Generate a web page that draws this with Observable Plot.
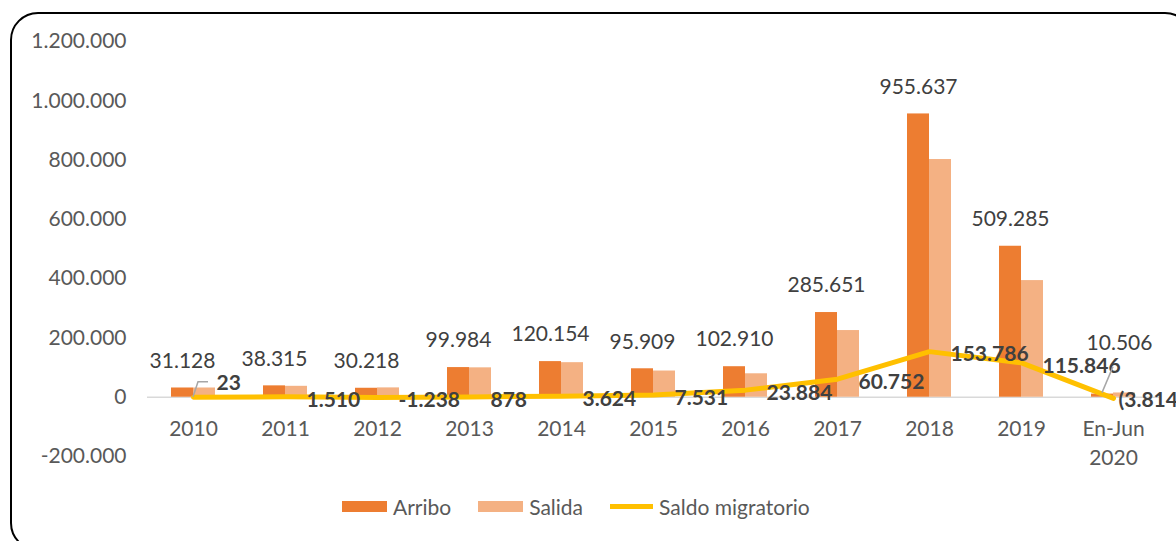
<!DOCTYPE html>
<html>
<head>
<meta charset="utf-8">
<script src="https://cdn.jsdelivr.net/npm/d3@7"></script>
<script src="https://cdn.jsdelivr.net/npm/@observablehq/plot@0.6"></script>
<style>
  html, body { margin: 0; padding: 0; background: #fff; overflow: hidden; width: 1176px; height: 541px; }
  #frame { position: absolute; left: 10px; top: 12px; width: 1183px; height: 539px; border: 2px solid #000; border-radius: 28px; box-sizing: border-box; pointer-events: none; }
  #chart { position: absolute; left: 0; top: 0; }
  #legend { position: absolute; left: 342px; top: 494px; display: flex; align-items: center; gap: 27px; font-family: Lato, sans-serif; font-size: 21px; color: #595959; }
  .item { display: flex; align-items: center; gap: 6px; }
  .sw { width: 45px; height: 11px; }
  .ln { width: 43px; height: 5px; }
</style>
</head>
<body>
<div id="chart"></div>
<div id="legend">
  <div class="item"><div class="sw" style="background:#ED7D31"></div><span>Arribo</span></div>
  <div class="item"><div class="sw" style="background:#F4B183"></div><span>Salida</span></div>
  <div class="item"><div class="ln" style="background:#FFC000"></div><span>Saldo migratorio</span></div>
</div>
<div id="frame"></div>
<script>
const categories = ["2010","2011","2012","2013","2014","2015","2016","2017","2018","2019","En-Jun\n2020"];
const arribo = [31128, 38315, 30218, 99984, 120154, 95909, 102910, 285651, 955637, 509285, 10506];
const salida = [31105, 36805, 31456, 99106, 116530, 88378, 79026, 224899, 801851, 393439, 14320];
const saldo  = [23, 1510, -1238, 878, 3624, 7531, 23884, 60752, 153786, 115846, -3814];
const yTicks = [-200000, 0, 200000, 400000, 600000, 800000, 1000000, 1200000];

const data = categories.map((c, i) => ({cat: c, arribo: arribo[i], salida: salida[i], saldo: saldo[i]}));
const first = categories[0], last = categories[categories.length - 1];

const loc = d3.formatLocale({decimal: ",", thousands: ".", grouping: [3], currency: ["", ""], minus: "-"});
const fmt = loc.format(",d");

const chart = Plot.plot({
  width: 1176,
  height: 480,
  marginLeft: 147,
  marginRight: 17,
  marginTop: 41,
  marginBottom: 24,
  style: {fontFamily: "Lato, sans-serif", fontSize: "21px", color: "#595959", background: "transparent", overflow: "visible"},
  x: {type: "band", domain: categories, paddingInner: 0.52, paddingOuter: 0.26, axis: null},
  y: {domain: [-200000, 1200000], ticks: yTicks, tickFormat: fmt, tickSize: 0, tickPadding: 21, label: null, grid: false},
  marks: [
    Plot.ruleY([0], {stroke: "#D9D9D9", strokeWidth: 1.5}),
    Plot.barY(data, {x: "cat", y: "arribo", fill: "#ED7D31", insetRight: 22}),
    Plot.barY(data, {x: "cat", y: "salida", fill: "#F4B183", insetLeft: 22}),
    Plot.line(data, {x: "cat", y: "saldo", stroke: "#FFC000", strokeWidth: 5, strokeLinejoin: "round"}),
    Plot.text(data, {filter: d => d.cat !== last, x: "cat", y: "arribo", text: d => fmt(d.arribo), dx: -11, dy: -27, fill: "#404040"}),
    Plot.text(data, {filter: d => d.cat === last, x: "cat", y: "arribo", text: d => fmt(d.arribo), dx: 6, dy: -51, fill: "#404040"}),
    Plot.text(data, {filter: d => d.cat !== first && d.cat !== last, x: "cat", y: "saldo", text: d => fmt(d.saldo), textAnchor: "start", dx: 21, dy: 3, fill: "#404040", fontWeight: "bold"}),
    Plot.text(data, {filter: d => d.cat === first, x: "cat", y: "saldo", text: d => fmt(d.saldo), textAnchor: "start", dx: 23, dy: -14, fill: "#404040", fontWeight: "bold"}),
    Plot.text(data, {filter: d => d.cat === last, x: "cat", y: "saldo", text: d => "(" + fmt(-d.saldo) + ")", textAnchor: "start", dx: 5, dy: 2, fill: "#404040", fontWeight: "bold"}),
    Plot.text(data, {x: "cat", y: () => 0, text: "cat", lineAnchor: "top", dy: 19, lineHeight: 1.35, fill: "#595959"})
  ]
});
document.getElementById("chart").appendChild(chart);

// leader lines, positioned through the chart's own scales
try {
  const X = chart.scale("x"), Y = chart.scale("y");
  const bw = X.bandwidth || 0;
  const svg = d3.select(chart);
  const d0 = data[0];
  const cx0 = X.apply(d0.cat) + bw / 2, py0 = Y.apply(d0.saldo);
  svg.append("path")
    .attr("d", `M${cx0},${py0}L${cx0 + 5},${py0 - 15}L${cx0 + 15},${py0 - 15}`)
    .attr("fill", "none").attr("stroke", "#A6A6A6").attr("stroke-width", 1.5);
  const dl = data[data.length - 1];
  const cxl = X.apply(dl.cat) + bw / 2, pyl = Y.apply(dl.arribo);
  svg.append("path")
    .attr("d", `M${cxl - 11},${pyl - 1}L${cxl},${pyl - 27}`)
    .attr("fill", "none").attr("stroke", "#A6A6A6").attr("stroke-width", 1.5);
} catch (e) { console.error(e); }
</script>
</body>
</html>
